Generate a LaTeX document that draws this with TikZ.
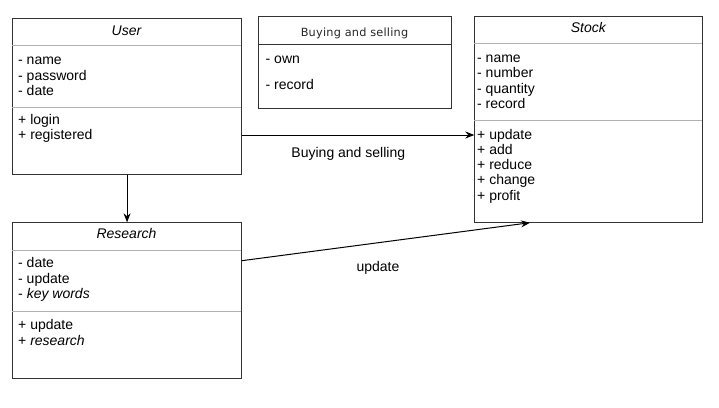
\documentclass[tikz,border=0pt]{standalone}
\usepackage{fontspec}
\setmainfont{Liberation Sans}
\newfontfamily\headfont[LetterSpace=2]{DejaVu Sans}
\usetikzlibrary{arrows.meta}

\tikzset{
	classbox/.style={draw=black!80, line width=1pt, anchor=north west, inner sep=0pt},
	sep/.style={draw=black!30, line width=1pt},
	darksep/.style={draw=black!80, line width=1pt},
	item/.style={anchor=base west, inner sep=0pt, font=\fontsize{14}{16}\selectfont},
	classname/.style={anchor=base, inner sep=0pt, font=\fontsize{14}{16}\selectfont\itshape},
	assoc/.style={draw=black, line width=1pt, -{Stealth[length=9pt,width=7pt]}},
	assoclabel/.style={anchor=base, inner sep=0pt, font=\fontsize{14}{16}\selectfont},
}

\begin{document}
\begin{tikzpicture}[x=1pt,y=-1pt]
		\useasboundingbox (0,0) rectangle (719,407);
		\node[classbox, minimum width=228.5pt, minimum height=155.5pt] (user) at (12.3,18.3) {};
		\node[classname] (usertitle) at (126.5,35) {User};
		\draw[sep] (12.3,45.6) -- (240.8,45.6);
		\foreach \t [count=\i] in {name,password,date}
			\node[item] (userattr\i) at (18,{49+15.5*\i}) {- \t};
		\draw[sep] (12.3,107.3) -- (240.8,107.3);
		\foreach \t [count=\i] in {login,registered}
			\node[item] (userop\i) at (18,{108.3+15.8*\i}) {+ \t};

		\node[classbox, minimum width=193pt, minimum height=92.5pt] (trade) at (258.3,15.7) {};
		\node[anchor=base, inner sep=0pt, font=\headfont\fontsize{11.3}{13}\selectfont, text=black!85] (tradetitle) at (354.5,36.3) {Buying and selling};
		\draw[darksep] (258.3,44.2) -- (451.3,44.2);
		\node[item] (tradeattr1) at (265.5,63) {- own};
		\node[item] (tradeattr2) at (265.5,89.7) {- record};

		\node[classbox, minimum width=228pt, minimum height=206pt] (stock) at (474.3,15.7) {};
		\node[classname] (stocktitle) at (588.3,32.3) {Stock};
		\draw[sep] (474.3,43.3) -- (702.3,43.3);
		\foreach \t [count=\i] in {name,number,quantity,record}
			\node[item] (stockattr\i) at (477,{46.9+15.4*\i}) {- \t};
		\draw[sep] (474.3,120.7) -- (702.3,120.7);
		\foreach \t [count=\i] in {update,add,reduce,change,profit}
			\node[item] (stockop\i) at (477,{123.7+15.3*\i}) {+ \t};

		\node[classbox, minimum width=228.5pt, minimum height=155.5pt] (research) at (12.3,222.3) {};
		\node[classname] (researchtitle) at (126.5,238.3) {Research};
		\draw[sep] (12.3,250) -- (240.8,250);
		\foreach \t [count=\i] in {date,update,\textit{key words}}
			\node[item] (researchattr\i) at (18,{252+15.5*\i}) {- \t};
		\draw[sep] (12.3,311) -- (240.8,311);
		\foreach \t [count=\i] in {update,\textit{research}}
			\node[item] (researchop\i) at (18,{313.6+15.8*\i}) {+ \t};

		\draw[assoc] (user.east |- 0,135) -- (stock.west |- 0,135);
		\node[assoclabel] (tradelabel) at (348.3,157.7) {Buying and selling};
		\draw[assoc] (user.south) -- (research.north);
		\draw[assoc] (research.east |- 0,260.7) -- (stock.south -| 530,0);
		\node[assoclabel] (updatelabel) at (378,271.7) {update};
\end{tikzpicture}
\end{document}
